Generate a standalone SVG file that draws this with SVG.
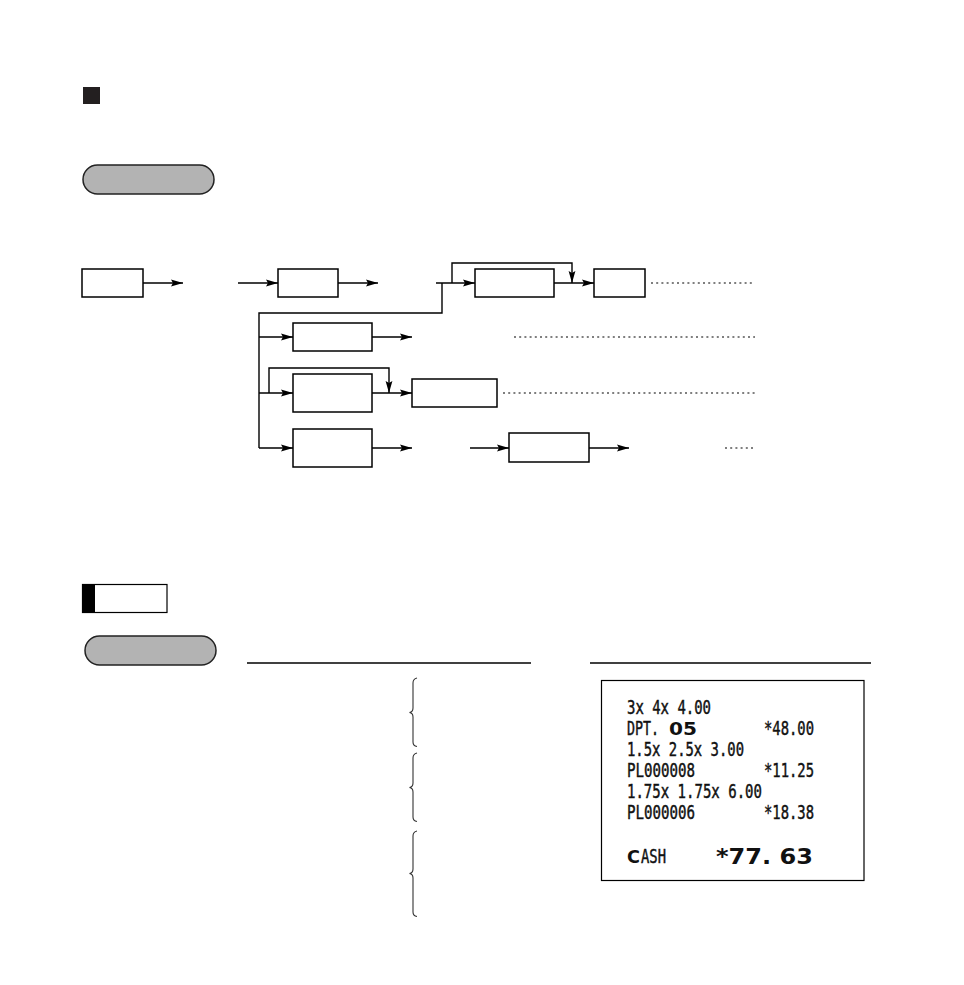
<svg xmlns="http://www.w3.org/2000/svg" width="964" height="985" viewBox="0 0 964 985">
<style>
.box{fill:#fff;stroke:#000;stroke-width:1.5}
.pill{fill:#b3b3b3;stroke:#222;stroke-width:1.5}
.ln{fill:none;stroke:#000;stroke-width:1.4}
.arr{fill:none;stroke:#000;stroke-width:1.4;marker-end:url(#ah)}
.dot{fill:none;stroke:#000;stroke-width:1.2;stroke-dasharray:2 3.2}
.rc{font-family:"DejaVu Sans Mono","Liberation Mono",monospace;font-size:19px;fill:#111;stroke:#111;stroke-width:0.45}
.big{font-family:"DejaVu Sans",sans-serif;font-weight:bold;fill:#111;stroke:none}
.brace{fill:none;stroke:#333;stroke-width:1.1}
</style>
<defs>
<marker id="ah" viewBox="0 0 12 8" refX="12" refY="4" markerWidth="12" markerHeight="8" markerUnits="userSpaceOnUse" orient="auto">
<path d="M0,0.6 L12,4 L0,7.4 L2,4 z" fill="#000"/>
</marker>
</defs>
<rect width="964" height="985" fill="#fff"/>

<g id="header">
<rect x="83" y="87" width="17" height="17" fill="#231f20"/>
<rect class="pill" x="83" y="165" width="131" height="29" rx="14.5"/>
</g>

<g id="connectors">
<path class="arr" d="M143 283 H183"/>
<path class="arr" d="M238 283 H278"/>
<path class="arr" d="M338 283 H378"/>
<path class="arr" d="M436 283 H475"/>
<path class="ln" d="M442 283 V313 H259 V448"/>
<path class="arr" d="M452 283 V263 H572 V283"/>
<path class="arr" d="M554 283 H594"/>
<path class="dot" d="M651 283 H755"/>
<path class="arr" d="M259 337 H293"/>
<path class="arr" d="M372 337 H412"/>
<path class="dot" d="M514 337 H755"/>
<path class="arr" d="M259 393 H293"/>
<path class="arr" d="M269 393 V368 H389 V393"/>
<path class="arr" d="M372 393 H412"/>
<path class="dot" d="M503 393 H756"/>
<path class="arr" d="M259 448 H293"/>
<path class="arr" d="M372 448 H412"/>
<path class="arr" d="M470 448 H509"/>
<path class="arr" d="M589 448 H629"/>
<path class="dot" d="M725 448 H756"/>
</g>

<g id="n1"><rect class="box" x="82" y="269" width="61" height="28"/></g>
<g id="n2"><rect class="box" x="278" y="269" width="60" height="28"/></g>
<g id="n3"><rect class="box" x="475" y="269" width="79" height="28"/></g>
<g id="n4"><rect class="box" x="594" y="269" width="51" height="28"/></g>
<g id="n5"><rect class="box" x="293" y="323" width="79" height="28"/></g>
<g id="n6"><rect class="box" x="293" y="374" width="79" height="38"/></g>
<g id="n7"><rect class="box" x="412" y="379" width="85" height="28"/></g>
<g id="n8"><rect class="box" x="293" y="429" width="79" height="38"/></g>
<g id="n9"><rect class="box" x="509" y="433" width="80" height="29"/></g>

<g id="example">
<rect x="82.5" y="584.5" width="84.5" height="28" fill="#fff" stroke="#000" stroke-width="1.2"/>
<rect x="82" y="584" width="13" height="29" fill="#000"/>
<rect class="pill" x="85" y="636" width="131" height="29" rx="14.5"/>
<line class="ln" x1="247" y1="663" x2="531" y2="663"/>
<line class="ln" x1="590" y1="663" x2="871" y2="663"/>
</g>

<g id="braces">
<path class="brace" d="M417 678 Q413 679 413 683 L413 708 Q413 712 409.5 712.5 Q413 713 413 717 L413 742 Q413 746 417 746.5"/>
<path class="brace" d="M417 753 Q413 754 413 758 L413 783 Q413 787 409.5 787.5 Q413 788 413 792 L413 817 Q413 821 417 821.5"/>
<path class="brace" d="M417 831 Q413 832 413 836 L413 869 Q413 873 409.5 873.5 Q413 874 413 878 L413 912 Q413 916 417 916.5" stroke="#999"/>
</g>

<g id="receipt">
<rect x="601.5" y="680.5" width="262.5" height="200" fill="#fff" stroke="#000" stroke-width="1.2"/>
<text class="rc" x="627" y="714" textLength="84" lengthAdjust="spacingAndGlyphs">3x 4x 4.00</text>
<text class="rc" x="627" y="735" font-size="17" textLength="32" lengthAdjust="spacingAndGlyphs">DPT.</text>
<text class="big" x="669" y="735" font-size="17" textLength="28" lengthAdjust="spacingAndGlyphs">05</text>
<text class="rc" x="764" y="735" textLength="50" lengthAdjust="spacingAndGlyphs">*48.00</text>
<text class="rc" x="627" y="756" textLength="117" lengthAdjust="spacingAndGlyphs">1.5x 2.5x 3.00</text>
<text class="rc" x="627" y="777" textLength="68" lengthAdjust="spacingAndGlyphs">PL000008</text>
<text class="rc" x="764" y="777" textLength="50" lengthAdjust="spacingAndGlyphs">*11.25</text>
<text class="rc" x="627" y="798" textLength="135" lengthAdjust="spacingAndGlyphs">1.75x 1.75x 6.00</text>
<text class="rc" x="627" y="819" textLength="68" lengthAdjust="spacingAndGlyphs">PL000006</text>
<text class="rc" x="764" y="819" textLength="50" lengthAdjust="spacingAndGlyphs">*18.38</text>
<text class="big" x="627" y="863" font-size="17" textLength="13" lengthAdjust="spacingAndGlyphs">C</text>
<text class="rc" x="641" y="863" textLength="25" lengthAdjust="spacingAndGlyphs">ASH</text>
<text class="big" x="716" y="864" font-size="21" textLength="97" lengthAdjust="spacingAndGlyphs">*77. 63</text>
</g>
</svg>
